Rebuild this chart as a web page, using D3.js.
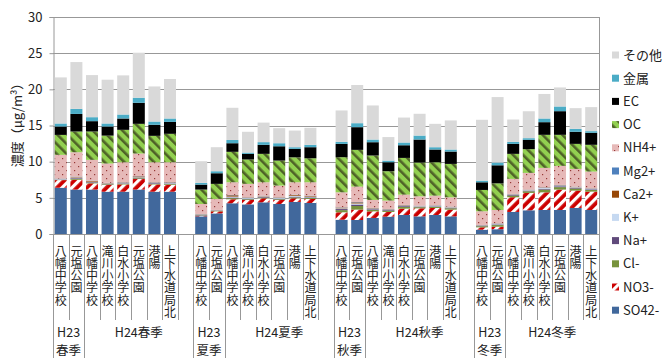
<!DOCTYPE html>
<html><head><meta charset="utf-8">
<script src="https://cdn.jsdelivr.net/npm/d3@7"></script>
<style>body{margin:0;background:#fff}text{font-family:"Noto Sans CJK JP","Noto Sans",sans-serif;fill:#222}</style>
</head><body><svg id="c" width="672" height="358"></svg>
<script>
const seasons = ["春季","夏季","秋季","冬季"];
const sites = ["八幡中学校","元塩公園","八幡中学校","滝川小学校","白水小学校","元塩公園","港陽","上下水道局北"];
const yTicks = [0,5,10,15,20,25,30];
const seriesNames = ["SO42-","NO3-","Cl-","Na+","K+","Ca2+","Mg2+","NH4+","OC","EC","金属","その他"];
const SO4 = [6.4,6.15,6.15,5.85,5.85,6.15,5.85,5.85, 2.44,2.85,4.25,4.1,4.38,4.15,4.43,4.29, 1.98,1.94,2.22,2.4,2.63,2.44,2.63,2.44, 0.6,0.66,3.05,3.28,3.32,3.32,3.6,3.32];
const NO3 = [1.05,1.35,0.85,0.95,1.0,1.45,1.0,0.95, 0.08,0.28,0.55,0.6,0.55,0.55,0.5,0.56, 1.02,1.43,0.91,0.65,0.88,1.11,0.97,0.93, 0.32,0.35,2.03,2.4,2.44,2.82,2.4,2.54];
const Cl = [0.05,0.12,0.1,0.08,0.1,0.1,0.08,0.1, 0.06,0.05,0.15,0.1,0.1,0.1,0.12,0.12, 0.3,0.5,0.2,0.16,0.22,0.15,0.15,0.18, 0.15,0.22,0.22,0.22,0.38,0.34,0.28,0.22];
const Na = [0.05,0.1,0.08,0.07,0.07,0.08,0.1,0.09, 0.06,0.05,0.1,0.08,0.1,0.08,0.12,0.1, 0.15,0.2,0.1,0.1,0.12,0.08,0.08,0.09, 0.08,0.1,0.1,0.1,0.12,0.12,0.11,0.1];
const K = [0.06,0.1,0.06,0.06,0.07,0.06,0.06,0.08, 0.07,0.05,0.12,0.1,0.08,0.1,0.12,0.1, 0.1,0.15,0.08,0.07,0.08,0.07,0.07,0.07, 0.05,0.07,0.07,0.07,0.1,0.09,0.08,0.07];
const Ca = [0.03,0.08,0.1,0.04,0.05,0.12,0.05,0.06, 0.04,0.03,0.18,0.06,0.06,0.06,0.1,0.08, 0.1,0.15,0.06,0.05,0.06,0.04,0.04,0.05, 0.03,0.04,0.04,0.04,0.06,0.05,0.05,0.04];
const Mg = [0.03,0.04,0.04,0.03,0.03,0.04,0.03,0.04, 0.02,0.02,0.05,0.03,0.03,0.03,0.05,0.05, 0.04,0.06,0.03,0.03,0.03,0.03,0.03,0.03, 0.02,0.03,0.03,0.03,0.04,0.04,0.03,0.03];
const NH4 = [3.27,3.36,2.87,2.66,2.75,3.12,2.75,2.75, 1.38,1.52,1.75,1.86,1.85,1.62,1.71,1.85, 2.07,2.12,1.11,1.16,1.42,1.29,1.33,1.28, 1.89,1.85,2.08,2.31,2.68,2.64,2.45,2.31];
const OC = [2.76,2.87,3.92,3.86,4.48,4.11,3.65,3.93, 1.99,2.08,4.21,3.37,3.93,3.46,3.45,3.32, 4.86,5.08,6.14,4.06,5.08,4.67,4.62,4.62, 2.95,3.68,3.46,3.28,4.57,4.29,3.46,3.7];
const EC = [1.16,2.43,1.43,1.26,1.57,2.91,1.53,1.65, 0.69,1.47,1.19,0.78,1.25,1.98,1.17,1.53, 1.84,3.14,1.84,1.24,1.75,3.18,1.76,1.71, 1.06,2.5,1.38,1.29,1.75,3.27,1.67,1.66];
const Metal = [0.42,0.7,0.55,0.42,0.55,0.7,0.45,0.47, 0.23,0.28,0.45,0.18,0.37,0.42,0.23,0.33, 0.28,0.55,0.37,0.23,0.38,0.55,0.32,0.28, 0.23,0.38,0.28,0.23,0.51,0.65,0.41,0.23];
const Other = [6.37,6.47,5.82,6.05,5.41,6.22,4.85,5.46, 3.0,3.32,4.45,2.87,2.7,2.08,2.3,2.35, 4.34,5.28,4.71,3.25,3.45,3.01,3.23,4.02, 8.41,9.05,3.09,3.72,3.39,2.63,2.86,3.32];

const seriesData = [SO4,NO3,Cl,Na,K,Ca,Mg,NH4,OC,EC,Metal,Other];
const fills = ["#41689C","url(#pNO3)","#77933C","#604A7B","#C6D9F1","#984807","#4F81BD","url(#pNH4)","url(#pOC)","#000000","#4BACC6","#D9D9D9"];

const svg = d3.select("#c");
const defs = svg.append("defs");
const p1 = defs.append("pattern").attr("id","pNO3").attr("patternUnits","userSpaceOnUse")
  .attr("width",7).attr("height",7).attr("patternTransform","rotate(45)");
p1.append("rect").attr("width",7).attr("height",7).attr("fill","#CC0000");
p1.append("rect").attr("width",3.2).attr("height",7).attr("fill","#ffffff");
const p2 = defs.append("pattern").attr("id","pOC").attr("patternUnits","userSpaceOnUse")
  .attr("width",7).attr("height",7).attr("patternTransform","rotate(-45)");
p2.append("rect").attr("width",7).attr("height",7).attr("fill","#92D050");
p2.append("rect").attr("width",2.6).attr("height",7).attr("fill","#4F6228");
const p3 = defs.append("pattern").attr("id","pNH4").attr("patternUnits","userSpaceOnUse")
  .attr("width",8).attr("height",8);
p3.append("rect").attr("width",8).attr("height",8).attr("fill","#E6B9B8");
p3.append("rect").attr("x",2).attr("y",2).attr("width",1.2).attr("height",1.2).attr("fill","#953735");
p3.append("rect").attr("x",6).attr("y",6).attr("width",1.2).attr("height",1.2).attr("fill","#953735");

const rows = [];
const slots = [];
seasons.forEach((s,si)=>{
  sites.forEach((site,j)=>{
    const idx = si*8+j;
    const key = s+"-"+j;
    const r = {key, site, season:s};
    seriesNames.forEach((n,k)=>{ r[n]=seriesData[k][idx]; });
    rows.push(r); slots.push(key);
  });
  if(si<seasons.length-1) slots.push("blank-"+si);
});

const L=53, R=599, T=17, B=234;
const x = d3.scaleBand().domain(slots).range([L,R]).paddingInner(0.23).paddingOuter(0.115);
const y = d3.scaleLinear().domain([0,30]).range([B,T]);
const step = x.step();

svg.append("g").selectAll("line").data(yTicks.filter(d=>d>0)).join("line")
  .attr("x1",L).attr("x2",R).attr("y1",d=>Math.round(y(d))+0.5).attr("y2",d=>Math.round(y(d))+0.5)
  .attr("stroke","#989898").attr("stroke-width",1);
svg.append("line").attr("x1",R+0.5).attr("x2",R+0.5).attr("y1",y(30)).attr("y2",B).attr("stroke","#989898");

const yAxis = svg.append("g").attr("transform",`translate(${L+0.5},0)`)
  .call(d3.axisLeft(y).tickValues(yTicks).tickSize(4).tickPadding(7));
yAxis.select(".domain").attr("stroke","#989898");
yAxis.selectAll(".tick line").attr("stroke","#989898");
yAxis.selectAll(".tick text").style("font-size","13px").attr("fill","#222").attr("x",-11);

svg.append("text").attr("transform",`translate(22,122) rotate(-90)`).attr("text-anchor","middle")
  .style("font-size","13px").text("濃度（μg/m³）");

const stack = d3.stack().keys(seriesNames)(rows);
svg.append("g").selectAll("g").data(stack).join("g")
  .attr("fill",(d,i)=>fills[i])
  .selectAll("rect").data(d=>d).join("rect")
  .attr("x",d=>x(d.data.key)).attr("width",x.bandwidth())
  .attr("y",d=>y(d[1])).attr("height",d=>Math.max(0,y(d[0])-y(d[1])));

svg.append("line").attr("x1",L).attr("x2",R).attr("y1",B+0.5).attr("y2",B+0.5).attr("stroke","#989898");
const tallIdx = new Set();
let pos = 0;
seasons.forEach((s,si)=>{ tallIdx.add(pos); tallIdx.add(pos+2); pos += (si<seasons.length-1)?9:8; });
d3.range(slots.length+1).forEach(i=>{
  const xx = Math.round(L + i*step)+0.5;
  svg.append("line").attr("x1",xx).attr("x2",xx).attr("y1",B).attr("y2",tallIdx.has(i)?358:320)
    .attr("stroke","#989898");
});

// site labels: stacked characters
rows.forEach(r=>{
  const cx = x(r.key)+x.bandwidth()/2;
  const t = svg.append("text").attr("text-anchor","middle").style("font-size","12px");
  Array.from(r.site).forEach((c,i)=>{
    t.append("tspan").attr("x",cx).attr("y",245+i*12.3+10.5).text(c);
  });
});

pos = 0;
seasons.forEach((s,si)=>{
  const x0 = L+pos*step, x1 = L+(pos+2)*step;
  const x2 = L+((si<seasons.length-1)?(pos+9):(pos+8))*step;
  svg.append("text").attr("text-anchor","middle").style("font-size","12.5px")
    .attr("x",(x0+x1)/2).attr("y",337).text("H23");
  svg.append("text").attr("text-anchor","middle").style("font-size","12.5px")
    .attr("x",(x0+x1)/2).attr("y",355).text(s);
  svg.append("text").attr("text-anchor","middle").style("font-size","12.5px")
    .attr("x",(x1+x2)/2).attr("y",337).text("H24"+s);
  pos += (si<seasons.length-1)?9:8;
});

const legNames = seriesNames.slice().reverse();
const legFills = fills.slice().reverse();
const lg = svg.append("g");
legNames.forEach((n,i)=>{
  const yy = 55 + i*23.2;
  lg.append("rect").attr("x",612).attr("y",yy-3.5).attr("width",7).attr("height",7).attr("fill",legFills[i]);
  lg.append("text").attr("x",623).attr("y",yy+4.5).style("font-size","13px").text(n);
});
</script></body></html>
